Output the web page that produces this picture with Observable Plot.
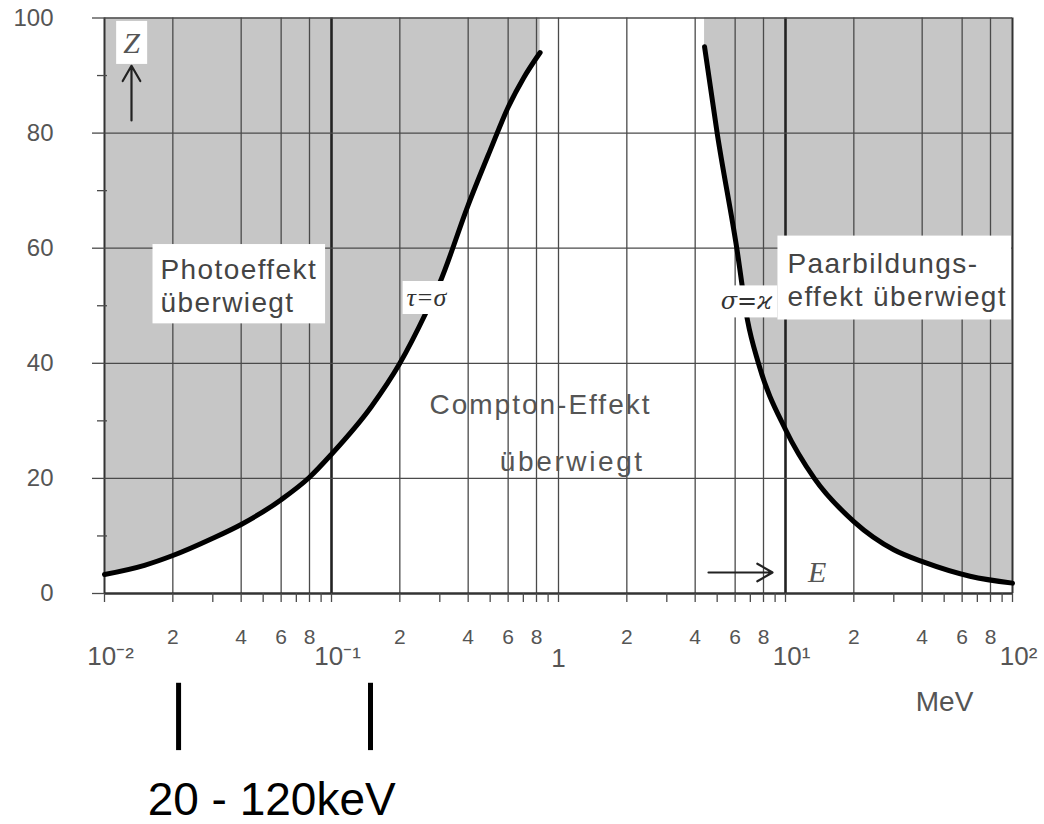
<!DOCTYPE html>
<html><head><meta charset="utf-8">
<script src="https://cdn.jsdelivr.net/npm/d3@7"></script>
<script src="https://cdn.jsdelivr.net/npm/@observablehq/plot@0.6"></script>
<style>body{margin:0;background:#fff;} svg{display:block}</style>
</head><body><div id="chart"></div>
<script>
// Boundary τ = σ (photo effect / Compton effect)
const tauE = [0.01, 0.015, 0.02, 0.03, 0.04, 0.06, 0.08, 0.1, 0.15, 0.2, 0.26, 0.3, 0.4, 0.5, 0.6, 0.7, 0.83];
const tauZ = [3.3, 4.9, 6.6, 9.6, 12, 16.3, 20.2, 24.2, 32.5, 40, 48.7, 54, 67.5, 77, 84.5, 89.5, 94];
// Boundary σ = κ (Compton effect / pair production)
const sigE = [4.4, 5.0, 6.1, 6.8, 7.6, 10, 13.4, 20, 30, 41, 65, 100];
const sigZ = [95, 80, 60, 47.5, 40, 28.5, 20, 12.5, 7.6, 5.4, 3.0, 1.8];

// Axes
const yTicks = [0, 20, 40, 60, 80, 100];
const yMinorTicks = [10, 30, 50, 70, 90];
const gridE = [0.02, 0.04, 0.06, 0.08, 0.2, 0.4, 0.6, 0.8, 1, 2, 4, 6, 8, 20, 40, 60, 80];
const decadeGridE = [0.1, 10];
const edgeE = [0.01, 100];
const tickE = [0.01,0.02,0.03,0.04,0.05,0.06,0.07,0.08,0.09,0.1,0.2,0.3,0.4,0.5,0.6,0.7,0.8,0.9,1,2,3,4,5,6,7,8,9,10,20,30,40,50,60,70,80,90,100];
const minorLabelE = [0.02, 0.04, 0.06, 0.08, 0.2, 0.4, 0.6, 0.8, 2, 4, 6, 8, 20, 40, 60, 80];
const minorLabels = ["2","4","6","8","2","4","6","8","2","4","6","8","2","4","6","8"];
const decadeE = [0.01, 0.1, 10, 100];
const decadeLabels = ["10⁻²", "10⁻¹", "10¹", "10²"];
const oneE = [1];
const oneLabels = ["1"];

// Text annotations
const photoLabel = [{E: 0.01765, Z: 53.6, t: "Photoeffekt\nüberwiegt"}];
const pairLabel = [{E: 10.2, Z: 54.7, t: "Paarbildungs-\neffekt überwiegt"}];
const comptonLabels = [{E: 0.833, Z: 32.7, t: "Compton-Effekt"}, {E: 1.15, Z: 22.8, t: "überwiegt"}];
const tauLabel = [{E: 0.262, Z: 51.4, t: "τ=σ"}];
const sigLabel = [{E: 6.73, Z: 50.7, t: "σ=ϰ"}];
const zLabel = [{E: 0.01315, Z: 95.6, t: "Z"}];
const eLabel = [{E: 13.8, Z: 3.6, t: "E"}];
const zArrow = [{x1: 0.01315, y1: 82.2, x2: 0.01315, y2: 91.7}];
const eArrow = [{x1: 4.58, y1: 3.65, x2: 8.77, y2: 3.65}];
const unitLabel = [{E: 50.2, Z: -18.8, t: "MeV"}];
const rangeBarsE = [0.0212, 0.1485];
const rangeLabel = [{E: 0.0545, Z: -36, t: "20 - 120keV"}];

const tau = tauE.map((E, i) => ({E, Z: tauZ[i]}));
const sig = sigE.map((E, i) => ({E, Z: sigZ[i]}));
const shade = "#c6c6c6";
const grid = "#4a4a4a";
const txt = "#555";
const decadeMap = new Map(decadeE.map((e, i) => [e, decadeLabels[i]]));
const oneMap = new Map(oneE.map((e, i) => [e, oneLabels[i]]));

const svg = Plot.plot({
  width: 1044, height: 824,
  marginLeft: 104, marginRight: 32, marginTop: 17.5, marginBottom: 231,
  style: {fontFamily: "'Liberation Sans', Arial, sans-serif", background: "white", color: txt},
  x: {type: "log", domain: [0.01, 100]},
  y: {domain: [0, 100]},
  marks: [
    Plot.areaY(tau, {x: "E", y1: "Z", y2: 100, fill: shade, curve: "monotone-x"}),
    Plot.areaY(sig, {x: "E", y1: "Z", y2: 100, fill: shade, curve: "monotone-x"}),
    Plot.ruleX(gridE, {y1: 0, y2: 100, stroke: grid, strokeWidth: 1.3}),
    Plot.ruleX(decadeGridE, {y1: 0, y2: 100, stroke: "#222", strokeWidth: 2.6}),
    Plot.ruleX(edgeE, {y1: 0, y2: 100, stroke: "#333", strokeWidth: 2}),
    Plot.ruleY(yTicks.filter(d => d > 0), {stroke: grid, strokeWidth: 1.3}),
    Plot.ruleY([0], {stroke: "#333", strokeWidth: 2.5}),
    Plot.axisY({ticks: yTicks, tickSize: 12, tickPadding: 39, fontSize: 24, stroke: grid, strokeWidth: 1.3}),
    Plot.axisY({ticks: yMinorTicks, tickSize: 10, dx: 3, tickFormat: () => "", stroke: grid, strokeWidth: 1.3}),
    Plot.axisX({ticks: tickE, tickSize: 9, tickFormat: () => "", stroke: grid, strokeWidth: 1.3}),
    Plot.text(minorLabelE, {x: d => d, y: 0, dy: 44, text: (d, i) => minorLabels[i], fontSize: 21, fill: txt}),
    Plot.axisX({ticks: decadeE, tickSize: 0, tickPadding: 53, fontSize: 26, dx: 6, tickFormat: d => decadeMap.get(d)}),
    Plot.axisX({ticks: oneE, tickSize: 0, tickPadding: 55, fontSize: 26, tickFormat: d => oneMap.get(d)}),
    Plot.line(tau, {x: "E", y: "Z", stroke: "black", strokeWidth: 5, curve: "monotone-x", strokeLinecap: "round"}),
    Plot.line(sig, {x: "E", y: "Z", stroke: "black", strokeWidth: 5, curve: "monotone-x", strokeLinecap: "round"}),
    Plot.arrow(zArrow, {x1: "x1", y1: "y1", x2: "x2", y2: "y2", stroke: "#222", strokeWidth: 2.2, headLength: 12}),
    Plot.arrow(eArrow, {x1: "x1", y1: "y1", x2: "x2", y2: "y2", stroke: "#222", strokeWidth: 2.2, headLength: 12}),
    Plot.text(photoLabel, {x: "E", y: "Z", text: "t", textAnchor: "start", fontSize: 28, lineHeight: 1.19, fill: "#444"}),
    Plot.text(pairLabel, {x: "E", y: "Z", text: "t", textAnchor: "start", fontSize: 28, lineHeight: 1.21, fill: "#444"}),
    Plot.text(comptonLabels, {x: "E", y: "Z", text: "t", fontSize: 28, fill: txt}),
    Plot.text(tauLabel, {x: "E", y: "Z", text: "t", fontSize: 26, fontStyle: "italic", fontFamily: "'Liberation Serif', serif", fill: "#333"}),
    Plot.text(sigLabel, {x: "E", y: "Z", text: "t", fontSize: 24, fontStyle: "italic", fontFamily: "'DejaVu Serif', serif", fill: "#333"}),
    Plot.text(zLabel, {x: "E", y: "Z", text: "t", fontSize: 30, fontStyle: "italic", fontFamily: "'Liberation Serif', serif", fill: txt}),
    Plot.text(eLabel, {x: "E", y: "Z", text: "t", fontSize: 30, fontStyle: "italic", fontFamily: "'Liberation Serif', serif", fill: txt}),
    Plot.text(unitLabel, {x: "E", y: "Z", text: "t", fontSize: 28, fill: txt}),
    Plot.ruleX(rangeBarsE, {y1: -15.6, y2: -27.3, stroke: "black", strokeWidth: 5}),
    Plot.text(rangeLabel, {x: "E", y: "Z", text: "t", fontSize: 46, fill: "black"})
  ]
});
document.getElementById("chart").append(svg);

// letter spacing for the scanned-looking region labels
const texts = [...svg.querySelectorAll("text")];
for (const t of texts) {
  const c = t.textContent;
  if (c.startsWith("Photoeffekt") || c.startsWith("Paarbildungs")) t.setAttribute("letter-spacing", "1.4");
  if (c === "Compton-Effekt") t.setAttribute("letter-spacing", "2");
  if (c === "überwiegt") t.setAttribute("letter-spacing", "2.6");
}
// white label boxes behind selected labels
const sr = svg.getBoundingClientRect();
function box(match, l, r, t0, b, maxRight) {
  const t = texts.find(el => el.textContent.startsWith(match));
  if (!t) return;
  const bb = t.getBoundingClientRect();
  let x0 = bb.left - sr.left - l, x1 = bb.right - sr.left + r;
  if (maxRight) x1 = Math.min(x1, maxRight);
  const y0 = bb.top - sr.top - t0, y1 = bb.bottom - sr.top + b;
  const rect = document.createElementNS("http://www.w3.org/2000/svg", "rect");
  rect.setAttribute("x", x0); rect.setAttribute("y", y0);
  rect.setAttribute("width", x1 - x0); rect.setAttribute("height", y1 - y0);
  rect.setAttribute("fill", "white");
  let g = t; while (g.parentNode !== svg) g = g.parentNode;
  svg.insertBefore(rect, g);
}
const frameRight = 1044 - 32;
box("Photoeffekt", 8, 8, 10, 5);
box("Paarbildungs", 10, 4, 12, 7, frameRight);
box("σ=", 4, 4, 2, 2);
box("τ=", 4, 4, 2, 2);
box("Z", 7, 7, 5, 5);
</script></body></html>
